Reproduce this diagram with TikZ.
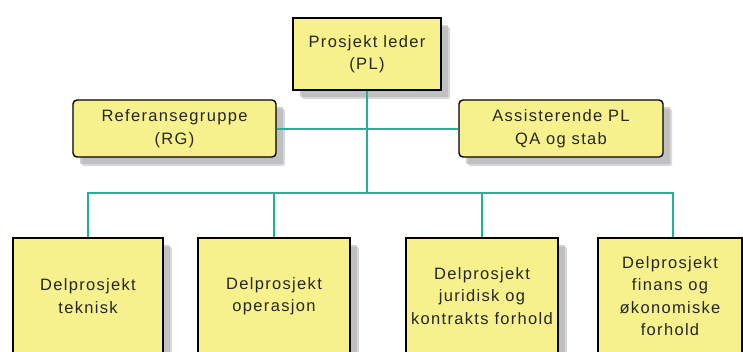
\documentclass[tikz,border=0pt]{standalone}
\usepackage{fontspec}
\setmainfont[LetterSpace=8]{Liberation Sans}
\definecolor{boxfill}{RGB}{246,241,140}
\definecolor{conn}{RGB}{32,178,150}
\definecolor{shadowc}{RGB}{175,175,178}
\begin{document}
\begin{tikzpicture}[x=1pt,y=-1pt,
  box/.style={draw=black, line width=1.4pt, fill=boxfill, align=center, inner sep=0pt,
     font=\fontsize{16.5}{22.5}\selectfont, text=black!85},
  conline/.style={draw=conn, line width=2pt}]
\useasboundingbox (0,0) rectangle (743,351);
\fill[white] (0,0) rectangle (743,351);
\clip (0,0) rectangle (743,351);
% shadows
\foreach \a/\b/\c/\d in {293/18/441/90, 73/100/276/157, 459/100/663/157, 13/238/163/354, 198/238/350/354, 406/238/558/354, 598/238/742/354}{
  \fill[shadowc, opacity=0.45, rounded corners=2pt] (\a+9,\b+9) rectangle (\c+9,\d+9);
  \fill[shadowc, opacity=0.6, rounded corners=1pt] (\a+7,\b+7) rectangle (\c+7,\d+7);
}
\coordinate (bus) at (0,193);
\node[box, minimum width=148pt, minimum height=72pt] (pl) at (367,54) {Prosjekt leder\\(PL)};
\node[box, rounded corners=4pt, minimum width=203pt, minimum height=57pt] (rg) at (174.5,128.5) {Referansegruppe\\(RG)};
\node[box, rounded corners=4pt, minimum width=204pt, minimum height=57pt] (as) at (561,128.5) {Assisterende PL\\QA og stab};
\node[box, minimum width=150pt, minimum height=116pt] (b1) at (88,296) {Delprosjekt\\teknisk};
\node[box, minimum width=152pt, minimum height=116pt] (b2) at (274,296) {Delprosjekt\\operasjon};
\node[box, minimum width=152pt, minimum height=116pt] (b3) at (482,296) {Delprosjekt\\juridisk og\\kontrakts forhold};
\node[box, minimum width=144pt, minimum height=116pt] (b4) at (670,296) {Delprosjekt\\finans og\\økonomiske\\forhold};
\draw[conline] (pl.south) -- (pl.south |- bus);
\draw[conline] (rg.east) -- (as.west);
\draw[conline] (b1.north) -- (b1.north |- bus) -| ([xshift=3pt]b4.north);
\draw[conline] (b2.north) -- (b2.north |- bus);
\draw[conline] (b3.north) -- (b3.north |- bus);
\end{tikzpicture}
\end{document}
